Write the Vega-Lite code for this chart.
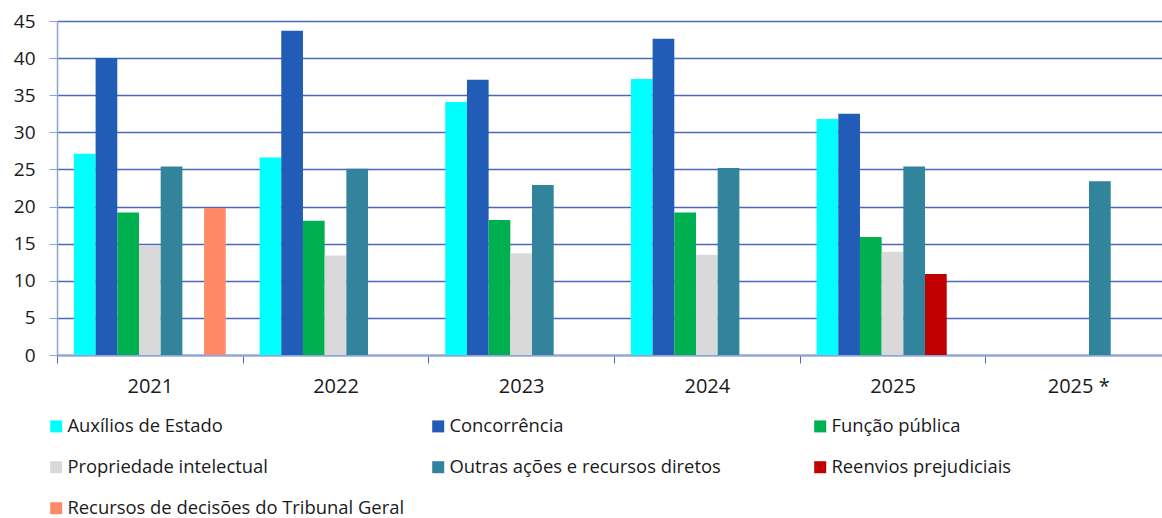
{
  "$schema": "https://vega.github.io/schema/vega-lite/v6.json",
  "width": 1114,
  "height": 334,
  "padding": {"left": 13, "top": 12, "right": 0, "bottom": 6},
  "background": "white",
  "config": {
    "view": {"stroke": null},
    "font": "Open Sans"
  },
  "data": {
    "values": [
      {"year": "2021", "series": "Auxílios de Estado", "value": 27.1},
      {"year": "2021", "series": "Concorrência", "value": 40.0},
      {"year": "2021", "series": "Função pública", "value": 19.2},
      {"year": "2021", "series": "Propriedade intelectual", "value": 14.7},
      {"year": "2021", "series": "Outras ações e recursos diretos", "value": 25.4},
      {"year": "2021", "series": "Recursos de decisões do Tribunal Geral", "value": 19.8},
      {"year": "2022", "series": "Auxílios de Estado", "value": 26.6},
      {"year": "2022", "series": "Concorrência", "value": 43.7},
      {"year": "2022", "series": "Função pública", "value": 18.1},
      {"year": "2022", "series": "Propriedade intelectual", "value": 13.4},
      {"year": "2022", "series": "Outras ações e recursos diretos", "value": 25.1},
      {"year": "2023", "series": "Auxílios de Estado", "value": 34.1},
      {"year": "2023", "series": "Concorrência", "value": 37.1},
      {"year": "2023", "series": "Função pública", "value": 18.2},
      {"year": "2023", "series": "Propriedade intelectual", "value": 13.7},
      {"year": "2023", "series": "Outras ações e recursos diretos", "value": 22.9},
      {"year": "2024", "series": "Auxílios de Estado", "value": 37.2},
      {"year": "2024", "series": "Concorrência", "value": 42.6},
      {"year": "2024", "series": "Função pública", "value": 19.2},
      {"year": "2024", "series": "Propriedade intelectual", "value": 13.5},
      {"year": "2024", "series": "Outras ações e recursos diretos", "value": 25.2},
      {"year": "2025", "series": "Auxílios de Estado", "value": 31.8},
      {"year": "2025", "series": "Concorrência", "value": 32.5},
      {"year": "2025", "series": "Função pública", "value": 15.9},
      {"year": "2025", "series": "Propriedade intelectual", "value": 13.9},
      {"year": "2025", "series": "Outras ações e recursos diretos", "value": 25.4},
      {"year": "2025", "series": "Reenvios prejudiciais", "value": 10.9},
      {"year": "2025 *", "series": "Outras ações e recursos diretos", "value": 23.4}
    ]
  },
  "mark": {"type": "bar"},
  "encoding": {
    "x": {
      "field": "year",
      "type": "nominal",
      "sort": ["2021", "2022", "2023", "2024", "2025", "2025 *"],
      "scale": {"paddingInner": 0, "paddingOuter": 0},
      "axis": {
        "title": null,
        "labelAngle": 0,
        "tickBand": "extent",
        "ticks": true,
        "tickSize": 8,
        "tickColor": "#4A68C0",
        "domainColor": "#8EA4D8",
        "domainWidth": 2,
        "labelFontSize": 20,
        "labelColor": "#1a1a1a",
        "labelPadding": 13,
        "grid": false
      }
    },
    "xOffset": {
      "field": "series",
      "type": "nominal",
      "scale": {
        "domain": ["Auxílios de Estado", "Concorrência", "Função pública", "Propriedade intelectual", "Outras ações e recursos diretos", "Reenvios prejudiciais", "Recursos de decisões do Tribunal Geral"],
        "paddingInner": 0,
        "paddingOuter": 0.78
      }
    },
    "y": {
      "field": "value",
      "type": "quantitative",
      "scale": {"domain": [0, 45], "nice": false},
      "axis": {
        "title": null,
        "values": [0, 5, 10, 15, 20, 25, 30, 35, 40, 45],
        "grid": true,
        "gridColor": "#4A68C0",
        "gridWidth": 1.3,
        "tickSize": 8,
        "tickColor": "#8EA4D8",
        "domainColor": "#8EA4D8",
        "domainWidth": 1.5,
        "labelFontSize": 19,
        "labelColor": "#1a1a1a",
        "labelPadding": 14
      }
    },
    "color": {
      "field": "series",
      "type": "nominal",
      "scale": {
        "domain": ["Auxílios de Estado", "Concorrência", "Função pública", "Propriedade intelectual", "Outras ações e recursos diretos", "Reenvios prejudiciais", "Recursos de decisões do Tribunal Geral"],
        "range": ["#00FFFF", "#215DB6", "#00AF50", "#D9D9D9", "#31849B", "#C00000", "#FF8A68"]
      },
      "legend": {
        "title": null,
        "orient": "none",
        "legendX": -10,
        "legendY": 396,
        "direction": "horizontal",
        "columns": 3,
        "gridAlign": "all",
        "columnPadding": 24,
        "rowPadding": 22,
        "symbolType": "square",
        "symbolSize": 144,
        "symbolStrokeWidth": 0,
        "labelFontSize": 18.4,
        "labelColor": "#1a1a1a",
        "labelOffset": 2,
        "labelLimit": 500
      }
    }
  }
}
